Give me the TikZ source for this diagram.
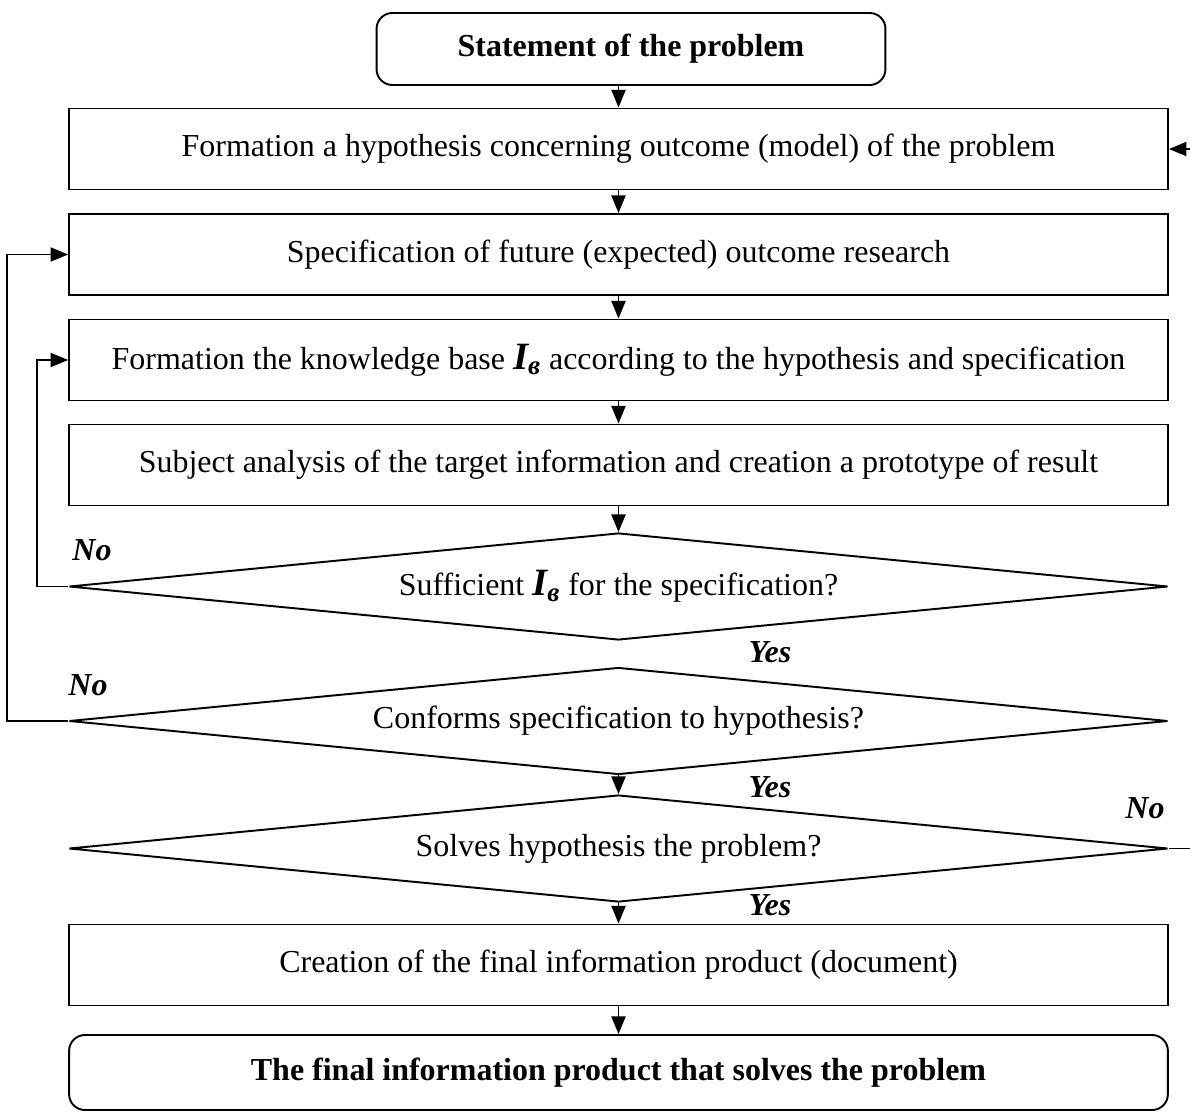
\documentclass[tikz,border=0pt]{standalone}
\usepackage{fontspec}
\setmainfont{Liberation Serif}
\usetikzlibrary{shapes.geometric,arrows.meta}

\newcommand{\Ib}{{\fontsize{22}{24}\selectfont\bfseries\itshape I\textsubscript{в}}}

\begin{document}
\begin{tikzpicture}[x=0.02cm, y=-0.02cm,
  every node/.style={font=\fontsize{18.2}{21}\selectfont},
  stepbox/.style={draw, line width=1.1pt, rectangle, minimum width=21.98cm,
                  minimum height=1.62cm, inner sep=0pt},
  termbox/.style={stepbox, rounded corners=9pt,
                  font=\fontsize{18.2}{21}\selectfont\bfseries},
  decision/.style={draw, line width=1.1pt, diamond, shape aspect=10.27,
                   minimum width=21.98cm, minimum height=2.14cm, inner sep=0pt},
  answer/.style={font=\fontsize{18.2}{21}\selectfont\bfseries\itshape},
  flow/.style={line width=1pt, -{Triangle[length=10pt,width=8pt]}},
]
\useasboundingbox (0,0) rectangle (1190,1115);

%% ── Start ────────────────────────────────────────────────────────────────
\node[termbox, minimum width=10.18cm, minimum height=1.44cm] (start) at (631, 49)
  {Statement of the problem};

%% ── Process steps ────────────────────────────────────────────────────────
\node[stepbox] (hypo) at (618.5, 149)
  {Formation a hypothesis concerning outcome (model) of the problem};
\node[stepbox] (spec) at (618.5, 254.5)
  {Specification of future (expected) outcome research};
\node[stepbox] (base) at (618.5, 360)
  {Formation the knowledge base \Ib{} according to the hypothesis and specification};
\node[stepbox] (anal) at (618.5, 465)
  {Subject analysis of the target information and creation a prototype of result};

%% ── Decisions ────────────────────────────────────────────────────────────
\node[decision] (suff) at (618.5, 586.5) {Sufficient \Ib{} for the specification?};
\node[decision] (conf) at (618.5, 721) {Conforms specification to hypothesis?};
\node[decision] (solv) at (618.5, 848.5) {Solves hypothesis the problem?};

%% ── Result ───────────────────────────────────────────────────────────────
\node[stepbox] (make) at (618.5, 965)
  {Creation of the final information product (document)};
\node[termbox, minimum height=1.5cm] (final) at (618.5, 1072.5)
  {The final information product that solves the problem};

%% ── Main flow ────────────────────────────────────────────────────────────
\draw[flow] (start.south -| hypo.north) -- (hypo.north);
\draw[flow] (hypo) -- (spec);
\draw[flow] (spec) -- (base);
\draw[flow] (base) -- (anal);
\draw[flow] (anal) -- (suff);
\draw[flow] (conf.south) -- (solv.north);
\draw[flow] (solv.south) -- (make.north);
\draw[flow] (make) -- (final);

%% ── Feedback loops ───────────────────────────────────────────────────────
\draw[flow] (suff.west) -- ++(-31, 0) |- (base.west);
\draw[flow] (conf.west) -- ++(-61, 0) |- (spec.west);
\draw[flow] (solv.east) -- ++(45, 0) |- (hypo.east);

%% ── Answers ──────────────────────────────────────────────────────────────
\node[answer] (no1)  at (92, 550)   {No};
\node[answer] (yes1) at (770, 652)  {Yes};
\node[answer] (no2)  at (88, 685)   {No};
\node[answer] (yes2) at (770, 787)  {Yes};
\node[answer] (no3)  at (1145, 808) {No};
\node[answer] (yes3) at (770, 905)  {Yes};

\end{tikzpicture}
\end{document}
